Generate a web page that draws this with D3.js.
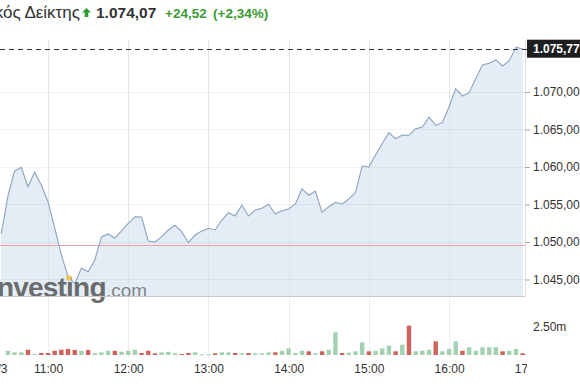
<!DOCTYPE html>
<html>
<head>
<meta charset="utf-8">
<script src="https://cdn.jsdelivr.net/npm/d3@7"></script>
<style>
  html, body { margin: 0; padding: 0; background: #fff; }
  svg { display: block; font-family: "Liberation Sans", Arial, sans-serif; }
</style>
</head>
<body>
<svg id="chart"></svg>
<script>
(() => {
  const width = 580, height = 390;

  // 5-minute closes, 10:25 .. 16:55
  const prices = [
    1051.07, 1056.10, 1059.47, 1059.96, 1057.37, 1059.29, 1057.60,
    1055.37, 1051.87, 1048.27, 1045.37, 1044.45, 1046.53, 1046.04, 1047.60,
    1050.67, 1051.07, 1050.53, 1051.47, 1052.49, 1053.37, 1053.33, 1050.13,
    1050.00, 1050.71, 1051.60, 1052.23, 1051.37, 1049.91, 1050.93, 1051.47,
    1051.83, 1051.60, 1052.93, 1053.91, 1053.47, 1054.89, 1053.47, 1054.27,
    1054.49, 1055.03, 1053.73, 1054.17, 1054.40, 1055.07, 1057.07, 1056.23,
    1056.80, 1053.96, 1054.71, 1055.29, 1055.07, 1055.73, 1056.63, 1060.13,
    1060.00, 1061.60, 1063.13, 1064.57, 1063.77, 1064.27, 1064.23, 1065.11,
    1065.33, 1066.63, 1065.56, 1065.91, 1068.04, 1070.44, 1069.47, 1069.91,
    1071.83, 1073.60, 1073.83, 1074.27, 1073.47, 1074.17, 1075.95, 1075.77
  ];

  // volume in millions, same slots
  const volumes = [
    0, 0.38, 0.24, 0.24, 0.47, 0.09, 0.18,
    0.18, 0.38, 0.47, 0.54, 0.45, 0.38, 0.45, 0.18, 0.24, 0.38, 0.38, 0.29,
    0.38, 0.47, 0.18, 0.38, 0.15, 0.24, 0.29, 0.15, 0.09, 0.18, 0.24, 0.06,
    0.06, 0.15, 0.24, 0.24, 0.18, 0.15, 0.18, 0.15, 0.15,
    0.24, 0.24, 0.38, 0.60, 0.18, 0.38, 0.33, 0.15, 0.33, 0.47, 2.03, 0.18,
    0.21, 0.33, 1.13, 0.33, 0.38, 0.60, 0.83, 0.33, 0.92, 2.62, 0.33, 0.38,
    0.47, 1.22, 0.33, 0.54, 1.22, 0.38, 0.69, 0.38, 0.69, 0.69, 0.69, 0.33,
    0.38, 0.54, 0.15
  ];

  const priceTicks = [1045, 1050, 1055, 1060, 1065, 1070];
  const volumeTicks = [2.5];
  const hourTicks = [11, 12, 13, 14, 15, 16, 17];
  const prevClose = 1049.55;
  const lastValue = 1075.77;
  const header = { name: "Γενικός Δείκτης", last: "1.074,07", change: "+24,52", pct: "(+2,34%)" };

  const t = (h, m) => new Date(2024, 2, 3, h, m);
  const times = d3.timeMinute.every(5).range(t(10, 25), t(17, 0));
  const data = times.map((d, i) => ({
    time: d,
    price: prices[i],
    vol: volumes[i],
    up: i === 0 || prices[i] >= prices[i - 1]
  }));

  const gr = d3.formatLocale({ decimal: ",", thousands: ".", grouping: [3], currency: ["", ""] });
  const fmt = gr.format(",.2f");

  const plotRight = 525, plotTop = 40, plotBottom = 296, volBase = 355;

  const x = d3.scaleTime().domain([t(11, 0), t(17, 0)]).range([48, 529.3]);
  const y = d3.scaleLinear().domain([1042.8, 1076.93]).range([plotBottom, plotTop]);
  const yv = d3.scaleLinear().domain([0, 2.5]).range([volBase, 327]);

  const svg = d3.select("#chart").attr("width", width).attr("height", height);
  svg.append("rect").attr("width", width).attr("height", height).attr("fill", "#fff");

  const defs = svg.append("defs");
  defs.append("clipPath").attr("id", "plotClip")
    .append("rect").attr("x", 0).attr("y", plotTop).attr("width", plotRight).attr("height", volBase - plotTop + 2);
  defs.append("clipPath").attr("id", "axisClip")
    .append("rect").attr("x", 0).attr("y", 0).attr("width", 527).attr("height", 30);

  // vertical hour grid
  svg.append("g")
    .selectAll("line")
    .data(hourTicks.slice(0, -1))
    .join("line")
    .attr("x1", d => Math.round(x(t(d, 0))) + 0.5).attr("x2", d => Math.round(x(t(d, 0))) + 0.5)
    .attr("y1", plotTop).attr("y2", volBase + 3)
    .attr("stroke", "#eeeeee").attr("stroke-width", 1);

  const plot = svg.append("g").attr("clip-path", "url(#plotClip)");

  const area = d3.area()
    .x(d => x(d.time))
    .y0(plotBottom)
    .y1(d => y(d.price));
  const line = d3.line()
    .x(d => x(d.time))
    .y(d => y(d.price));

  plot.append("path").datum(data)
    .attr("d", area)
    .attr("fill", "#e4ecf5");

  // horizontal grid on price pane
  plot.append("g")
    .selectAll("line")
    .data(priceTicks)
    .join("line")
    .attr("x1", 0).attr("x2", plotRight)
    .attr("y1", d => Math.round(y(d)) + 0.5).attr("y2", d => Math.round(y(d)) + 0.5)
    .attr("stroke", "#000").attr("stroke-opacity", 0.05);

  plot.append("g")
    .selectAll("line")
    .data(hourTicks.slice(0, -1))
    .join("line")
    .attr("x1", d => Math.round(x(t(d, 0))) + 0.5).attr("x2", d => Math.round(x(t(d, 0))) + 0.5)
    .attr("y1", plotTop).attr("y2", plotBottom)
    .attr("stroke", "#000").attr("stroke-opacity", 0.035);

  // previous close
  plot.append("line")
    .attr("x1", 0).attr("x2", plotRight)
    .attr("y1", Math.round(y(prevClose)) + 0.5).attr("y2", Math.round(y(prevClose)) + 0.5)
    .attr("stroke", "#f0a0a0").attr("stroke-width", 1);

  plot.append("path").datum(data)
    .attr("d", line)
    .attr("fill", "none")
    .attr("stroke", "#8aa3bf")
    .attr("stroke-width", 1.1);

  // watermark
  const wm = svg.append("g");
  wm.append("text")
    .attr("x", -10).attr("y", 297)
    .attr("font-size", 28).attr("font-weight", "bold")
    .attr("fill", "#5a5a5a").attr("fill-opacity", 0.9)
    .attr("letter-spacing", -0.8)
    .text("Investing");
  wm.append("text")
    .attr("x", 106).attr("y", 297)
    .attr("font-size", 19)
    .attr("fill", "#777").attr("fill-opacity", 0.9)
    .text(".com");
  wm.append("circle")
    .attr("cx", 69).attr("cy", 278).attr("r", 2.7)
    .attr("fill", "#efc25a");

  // plot frame (bottom + right)
  svg.append("line")
    .attr("x1", 0).attr("x2", plotRight).attr("y1", plotBottom + 0.5).attr("y2", plotBottom + 0.5)
    .attr("stroke", "#c8c8c8");
  svg.append("line")
    .attr("x1", plotRight + 0.5).attr("x2", plotRight + 0.5).attr("y1", plotTop).attr("y2", plotBottom)
    .attr("stroke", "#dedede");

  // volume bars
  plot.append("g")
    .selectAll("rect")
    .data(data.filter(d => d.vol > 0))
    .join("rect")
    .attr("x", d => x(d.time) - 2.2)
    .attr("width", 4.4)
    .attr("y", d => yv(d.vol))
    .attr("height", d => Math.max(1, volBase - yv(d.vol)))
    .attr("fill", d => d.up ? "#a3d2b2" : "#d0625d");

  // last value dashed line + label
  svg.append("line")
    .attr("x1", 0).attr("x2", 527)
    .attr("y1", Math.round(y(lastValue)) + 0.5).attr("y2", Math.round(y(lastValue)) + 0.5)
    .attr("stroke", "#333").attr("stroke-dasharray", "5,4");

  // price axis
  const yAxis = svg.append("g")
    .attr("transform", `translate(${plotRight},0)`)
    .call(d3.axisRight(y).tickValues(priceTicks).tickSize(5).tickPadding(3).tickFormat(fmt));
  yAxis.select(".domain").remove();
  yAxis.selectAll("line").attr("stroke", "#aaa");
  yAxis.selectAll("text").attr("font-size", 12).attr("fill", "#333").attr("font-family", null);

  const vAxis = svg.append("g")
    .attr("transform", `translate(${plotRight},0)`)
    .call(d3.axisRight(yv).tickValues(volumeTicks).tickSize(0).tickPadding(8).tickFormat(d => d3.format(".2f")(d) + "m"));
  vAxis.select(".domain").remove();
  vAxis.selectAll("text").attr("font-size", 12).attr("fill", "#333").attr("font-family", null);

  const lab = svg.append("g").attr("transform", `translate(527,${y(lastValue)})`);
  lab.append("rect").attr("x", 0).attr("y", -9).attr("width", 60).attr("height", 18).attr("fill", "#1e1e1e");
  lab.append("text")
    .attr("x", 6).attr("y", 4.5)
    .attr("font-size", 12).attr("font-weight", "bold").attr("fill", "#fff")
    .text(fmt(lastValue));

  // time axis
  const xAxis = svg.append("g")
    .attr("transform", `translate(0,${volBase})`)
    .attr("clip-path", "url(#axisClip)")
    .call(d3.axisBottom(x).tickValues(hourTicks.map(h => t(h, 0))).tickSize(0).tickPadding(9.5)
      .tickFormat(d3.timeFormat("%H:%M")));
  xAxis.select(".domain").remove();
  xAxis.selectAll("text").attr("font-size", 12).attr("fill", "#333").attr("font-family", null);
  xAxis.append("text")
    .attr("x", 7.5).attr("y", 18)
    .attr("text-anchor", "end").attr("font-size", 12).attr("fill", "#333")
    .text("3/3");

  // header
  const hd = svg.append("g");
  hd.append("text")
    .attr("x", 80).attr("y", 18)
    .attr("text-anchor", "end").attr("font-size", 17).attr("fill", "#333")
    .text(header.name);
  hd.append("path")
    .attr("d", "M86.5,8 L91,12.5 L88.3,12.5 L88.3,17 L84.7,17 L84.7,12.5 L82,12.5 Z")
    .attr("fill", "#2f9a2f");
  hd.append("text")
    .attr("x", 96).attr("y", 18)
    .attr("font-size", 15.5).attr("font-weight", "bold").attr("fill", "#333")
    .text(header.last);
  hd.append("text")
    .attr("x", 165).attr("y", 18)
    .attr("font-size", 13.5).attr("font-weight", "bold").attr("fill", "#3a9a30")
    .text(header.change);
  hd.append("text")
    .attr("x", 213).attr("y", 18)
    .attr("font-size", 13.5).attr("font-weight", "bold").attr("fill", "#3a9a30")
    .text(header.pct);
})();
</script>
</body>
</html>
